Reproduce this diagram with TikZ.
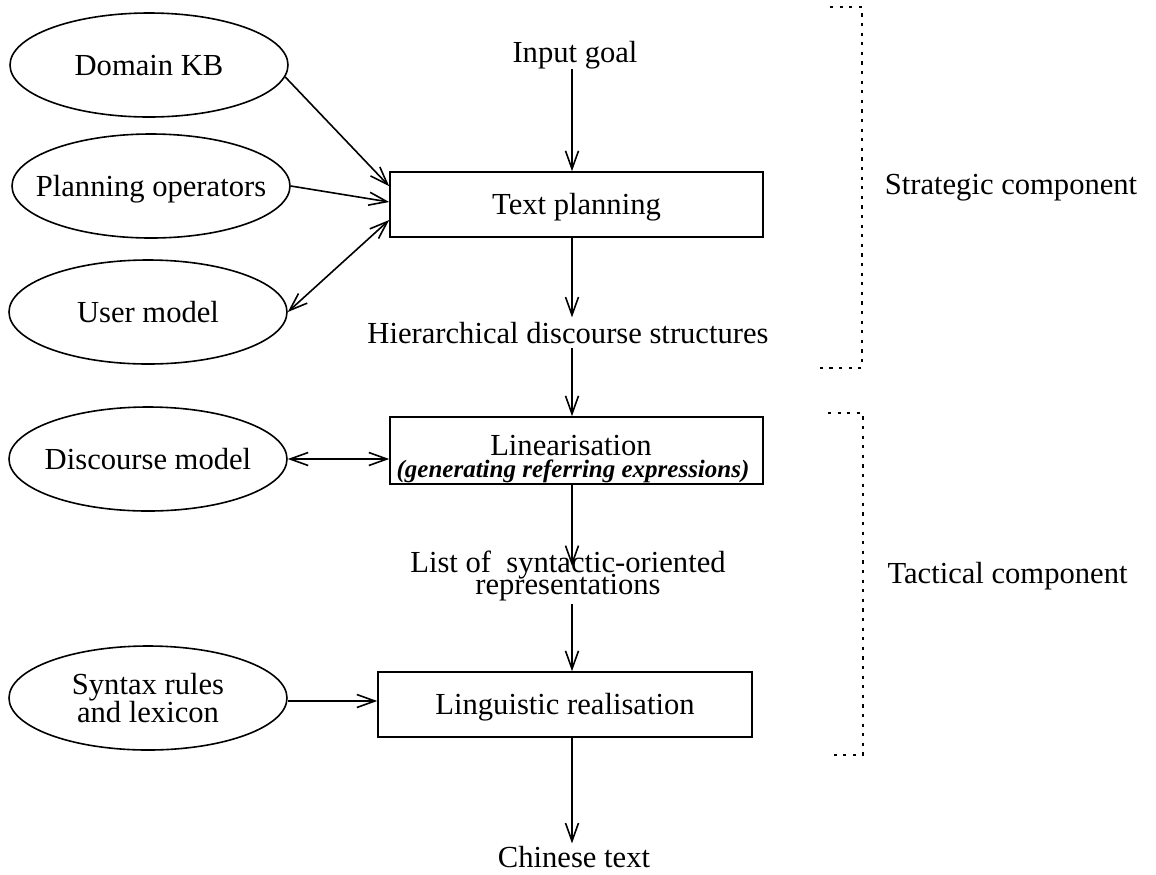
\documentclass[tikz,border=0pt]{standalone}
\usepackage{fontspec}
\setmainfont{Liberation Serif}
\usetikzlibrary{arrows.meta,shapes.geometric,calc}
\newcommand{\nowidth}[1]{\makebox[0pt]{#1}}
\begin{document}
\begin{tikzpicture}[x=0.5pt,y=-0.5pt,
  every node/.style={font=\fontsize{15.3}{18}\selectfont},
  txt/.style={inner sep=1pt, anchor=base},
  src/.style={draw, ellipse, line width=0.8pt, minimum width=139pt,
    minimum height=52pt, inner sep=0pt},
  oneline/.style={text height=10.1pt, text depth=0pt},
  stage/.style={draw, rectangle, line width=0.8pt, minimum width=186.5pt,
    minimum height=32.5pt, inner sep=0pt, text height=10.1pt, text depth=0pt},
  tip/.tip={Straight Barb[length=9pt,width=6.5pt]},
  arr/.style={line width=0.8pt, -tip},
  darr/.style={line width=0.8pt, tip-tip},
  brk/.style={line width=0.9pt, dash pattern=on 1.6pt off 3.2pt},
]
\useasboundingbox (0,0) rectangle (1156,874);

% knowledge sources
\node[src, oneline] (dkb) at (149,65)  {\nowidth{Domain KB}};
\node[src, oneline] (po)  at (151,186) {\nowidth{Planning operators}};
\node[src, oneline] (um)  at (148,312) {\nowidth{User model}};
\node[src, oneline] (dm)  at (148,459) {\nowidth{Discourse model}};
\node[src, align=center, font=\fontsize{15.3}{14.2}\selectfont] (syn) at (148,698)
  {Syntax rules\\and lexicon};

% processing stages
\node[stage] (tp) at (576.5,204.5) {Text planning};
\node[stage, minimum height=33.5pt] (lin) at (576.5,450.5) {};
\node[txt] (linT) at (571,455) {Linearisation};
\node[txt, font=\fontsize{12.5}{15}\selectfont\bfseries\itshape] (linS) at (573,477.5)
  {(generating referring expressions)};
\node[stage, minimum width=187pt] (ling) at (565,704.5) {Linguistic realisation};

% intermediate data
\node[txt, inner sep=0pt] (goal) at (575,62) {Input goal};
\node[txt, inner sep=2pt] (hds) at (568,343) {Hierarchical discourse structures};
\node[txt] (lst1) at (568,572) {List of\ \ syntactic-oriented};
\node[txt] (lst2) at (568,594.6) {representations};
\node[txt] (chin) at (574,867) {Chinese text};

% main column
\coordinate (col) at (572,0);
\draw[arr] (goal.south -| col) -- (tp.north -| col);
\draw[arr] (tp.south -| col) -- (hds.north -| col);
\draw[arr] (hds.south -| col) -- (lin.north -| col);
\draw[arr] (lin.south -| col) -- ($(lst1.base -| col)+(0,-6)$);
\draw[arr] (lst2.south -| col) -- (ling.north -| col);
\draw[arr] (ling.south -| col) -- (chin.north -| col);

% inputs from knowledge sources
\draw[arr] (dkb.-5) -- ($(tp.north west)+(0,15)$);
\draw[arr] (po.east) -- ($(tp.west)+(0,-2.5)$);
\draw[darr] (um.east) -- ($(tp.west)+(0,15.5)$);
\draw[darr] (dm.east) -- (dm.east -| lin.west);
\draw[arr] ($(syn.east)+(0,3)$) -- ($(syn.east -| ling.west)+(0,3)$);

% component brackets
\draw[brk] (830,7) -- (862,7) -- (862,368) -- (820,368);
\draw[brk] (828,413) -- (863,413) -- (863,755) -- (828,755);
\node[txt] (strat) at (1011,194) {Strategic component};
\node[txt] (tact) at (1007.5,583) {Tactical component};
\end{tikzpicture}
\end{document}
